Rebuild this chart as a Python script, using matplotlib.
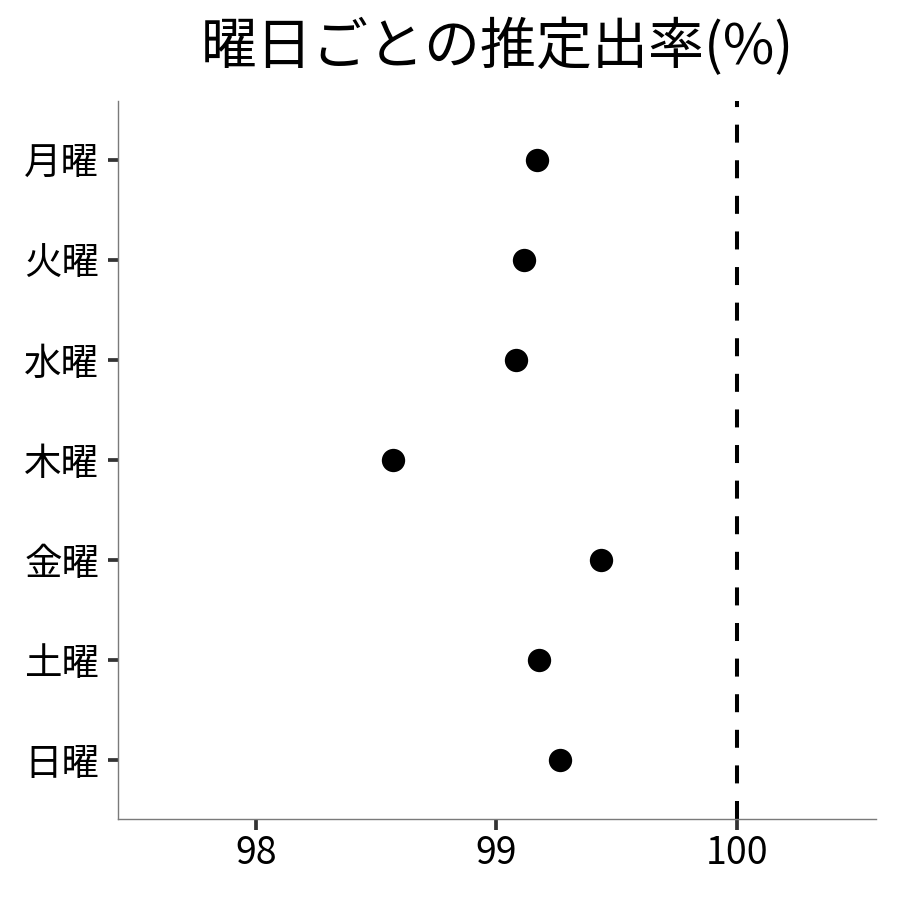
import matplotlib
matplotlib.use("Agg")
import matplotlib.pyplot as plt

plt.rcParams['font.family'] = ['Noto Sans CJK JP', 'DejaVu Sans']
plt.rcParams['lines.scale_dashes'] = False

days = ["月曜", "火曜", "水曜", "木曜", "金曜", "土曜", "日曜"]
rates = [99.171, 99.117, 99.084, 98.571, 99.437, 99.178, 99.264]
xticks = [98, 99, 100]
ref_line = 100
title = "曜日ごとの推定出率(%)"

fig = plt.figure(figsize=(9, 9), dpi=100)
ax = fig.add_axes([118/900, 81/900, (876-118)/900, (819-101)/900])

n = len(days)
ypos = list(range(n, 0, -1))
ax.plot(rates, ypos, 'o', color='black', markersize=16.8, markeredgewidth=0, zorder=3)
ax.axvline(ref_line, color='black', linewidth=2.9, linestyle=(0, (12.96, 12.67)), zorder=2)

ax.set_xlim(97.427, 100.579)
ax.set_ylim(0.41, n + 0.59)
ax.set_xticks(xticks)
ax.set_xticklabels([str(t) for t in xticks])
ax.set_yticks(ypos)
ax.set_yticklabels(days)

for s in ['top', 'right']:
    ax.spines[s].set_visible(False)
for s in ['left', 'bottom']:
    ax.spines[s].set_color('#7a7a7a')
    ax.spines[s].set_linewidth(1.0)

ax.tick_params(axis='both', colors='#333333', width=2.7, labelsize=27, labelcolor='black')
ax.tick_params(axis='y', length=7.5, pad=6)
ax.tick_params(axis='x', length=8, pad=3)

ax.set_title(title, fontsize=40.3, pad=26.5)

fig.savefig("out.png", dpi=100, facecolor='white')
